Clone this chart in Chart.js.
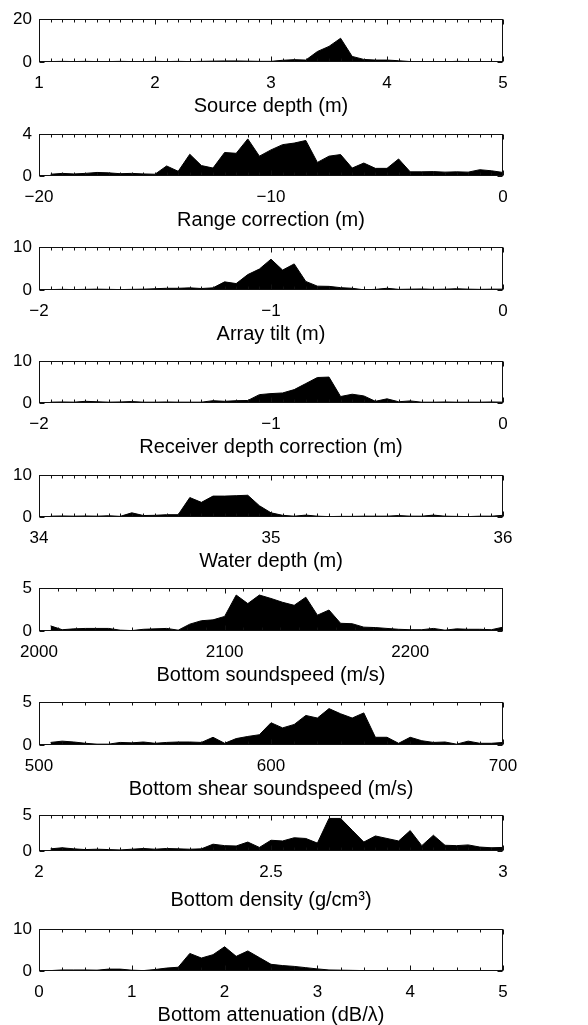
<!DOCTYPE html>
<html><head><meta charset="utf-8">
<script src="https://cdn.jsdelivr.net/npm/chart.js@4/dist/chart.umd.min.js"></script>
<style>
html,body{margin:0;padding:0;background:#fff;}
#wrap{position:relative;width:588px;height:1025px;overflow:hidden;}
canvas{position:absolute;left:0;}
</style></head><body><div id="wrap"></div>
<script>
// ---- data ----
const titles = ['Source depth (m)','Range correction (m)','Array tilt (m)','Receiver depth correction (m)','Water depth (m)','Bottom soundspeed (m/s)','Bottom shear soundspeed (m/s)','Bottom density (g/cm\u00B3)','Bottom attenuation (dB/\u03BB)'];
const xMin = [1,-20,-2,-2,34,2000,500,2,0];
const xMax = [5,0,0,0,36,2250,700,3,5];
const yMax = [20,4,10,10,10,5,5,5,10];
const xTickVals = [[1,2,3,4,5],[-20,-10,0],[-2,-1,0],[-2,-1,0],[34,35,36],[2000,2100,2200],[500,600,700],[2,2.5,3],[0,1,2,3,4,5]];
const yTickVals = [[0,10,20],[0,2,4],[0,5,10],[0,5,10],[0,5,10],[0,5],[0,5],[0,5],[0,5,10]];

const srcDepthX = [1.1,1.2,1.3,1.4,1.5,1.6,1.7,1.8,1.9,2.0,2.1,2.2,2.3,2.4,2.5,2.6,2.7,2.8,2.9,3.0,3.1,3.2,3.3,3.4,3.5,3.6,3.7,3.8,3.9,4.0,4.1,4.2,4.3,4.4,4.5,4.6,4.7,4.8,4.9,5.0];
const srcDepthY = [0.2,0.3,0.2,0.3,0.2,0.2,0.3,0.2,0.2,0.3,0.2,0.3,0.2,0.3,0.4,0.5,0.5,0.4,0.3,0.3,0.8,1.1,0.9,4.9,7.3,11.1,2.6,1.2,0.9,0.9,0.6,0.2,0.1,0.2,0.1,0.3,0.2,0.1,0.2,0.2];

const rangeX = [-19.5,-19,-18.5,-18,-17.5,-17,-16.5,-16,-15.5,-15,-14.5,-14,-13.5,-13,-12.5,-12,-11.5,-11,-10.5,-10,-9.5,-9,-8.5,-8,-7.5,-7,-6.5,-6,-5.5,-5,-4.5,-4,-3.5,-3,-2.5,-2,-1.5,-1,-0.5,0];
const rangeY = [0.17,0.25,0.2,0.25,0.34,0.3,0.22,0.25,0.2,0.17,0.96,0.45,2.08,1.0,0.76,2.25,2.17,3.55,1.9,2.5,3.0,3.15,3.4,1.3,1.9,2.05,0.76,1.24,0.73,0.73,1.63,0.4,0.4,0.42,0.37,0.4,0.37,0.6,0.5,0.34];

const tiltX = [-1.95,-1.9,-1.85,-1.8,-1.75,-1.7,-1.65,-1.6,-1.55,-1.5,-1.45,-1.4,-1.35,-1.3,-1.25,-1.2,-1.15,-1.1,-1.05,-1.0,-0.95,-0.9,-0.85,-0.8,-0.75,-0.7,-0.65,-0.6,-0.55,-0.5,-0.45,-0.4,-0.35,-0.3,-0.25,-0.2,-0.15,-0.1,-0.05,0];
const tiltY = [0.1,0.15,0.1,0.15,0.2,0.15,0.1,0.15,0.2,0.3,0.4,0.4,0.5,0.35,0.5,1.9,1.5,3.6,4.9,7.2,4.65,6.1,2.0,0.9,0.85,0.55,0.4,0.05,0.15,0.4,0.15,0.2,0.25,0.15,0.2,0.3,0.2,0.15,0.2,0.2];

const recvX = [-1.95,-1.9,-1.85,-1.8,-1.75,-1.7,-1.65,-1.6,-1.55,-1.5,-1.45,-1.4,-1.35,-1.3,-1.25,-1.2,-1.15,-1.1,-1.05,-1.0,-0.95,-0.9,-0.85,-0.8,-0.75,-0.7,-0.65,-0.6,-0.55,-0.5,-0.45,-0.4,-0.35,-0.3,-0.25,-0.2,-0.15,-0.1,-0.05,0];
const recvY = [0.2,0.25,0.2,0.4,0.3,0.2,0.25,0.35,0.2,0.2,0.25,0.2,0.2,0.2,0.55,0.4,0.55,0.6,2.0,2.25,2.4,3.2,4.65,6.1,6.2,1.55,2.1,1.7,0.4,1.0,0.3,0.5,0.2,0.2,0.25,0.2,0.2,0.2,0.25,0.2];

const waterX = [34.05,34.1,34.15,34.2,34.25,34.3,34.35,34.4,34.45,34.5,34.55,34.6,34.65,34.7,34.75,34.8,34.85,34.9,34.95,35.0,35.05,35.1,35.15,35.2,35.25,35.3,35.35,35.4,35.45,35.5,35.55,35.6,35.65,35.7,35.75,35.8,35.85,35.9,35.95,36.0];
const waterY = [0.2,0.25,0.2,0.25,0.2,0.3,0.15,1.0,0.35,0.4,0.55,0.55,4.65,3.5,5.0,5.0,5.1,5.2,2.7,1.0,0.4,0.2,0.45,0.2,0.1,0.15,0.15,0.2,0.2,0.2,0.35,0.2,0.2,0.45,0.2,0.15,0.1,0.2,0.2,0.4];

const soundX = [2006.25,2012.5,2018.75,2025,2031.25,2037.5,2043.75,2050,2056.25,2062.5,2068.75,2075,2081.25,2087.5,2093.75,2100,2106.25,2112.5,2118.75,2125,2131.25,2137.5,2143.75,2150,2156.25,2162.5,2168.75,2175,2181.25,2187.5,2193.75,2200,2206.25,2212.5,2218.75,2225,2231.25,2237.5,2243.75,2250];
const soundY = [0.6,0.15,0.25,0.3,0.3,0.3,0.1,0.05,0.2,0.25,0.3,0.1,0.8,1.2,1.3,1.7,4.2,3.2,4.2,3.8,3.35,3.0,3.95,1.85,2.45,0.9,0.85,0.45,0.4,0.3,0.2,0.15,0.15,0.3,0.1,0.25,0.2,0.2,0.15,0.45];

const shearX = [505,510,515,520,525,530,535,540,545,550,555,560,565,570,575,580,585,590,595,600,605,610,615,620,625,630,635,640,645,650,655,660,665,670,675,680,685,690,695,700];
const shearY = [0.3,0.45,0.35,0.2,0.1,0.1,0.3,0.25,0.35,0.2,0.3,0.35,0.35,0.3,0.9,0.2,0.75,1.0,1.2,2.6,2.0,2.4,3.45,3.15,4.25,3.65,3.15,3.75,0.9,0.9,0.2,0.9,0.5,0.3,0.35,0.1,0.45,0.2,0.2,0.3];

const densX = [2.025,2.05,2.075,2.1,2.125,2.15,2.175,2.2,2.225,2.25,2.275,2.3,2.325,2.35,2.375,2.4,2.425,2.45,2.475,2.5,2.525,2.55,2.575,2.6,2.625,2.65,2.675,2.7,2.725,2.75,2.775,2.8,2.825,2.85,2.875,2.9,2.925,2.95,2.975,3.0];
const densY = [0.3,0.45,0.3,0.2,0.25,0.2,0.15,0.25,0.35,0.25,0.35,0.3,0.25,0.3,0.95,0.75,0.7,1.25,0.5,1.5,1.4,1.85,1.75,1.1,4.55,4.55,2.9,1.25,2.1,1.75,1.4,2.85,0.75,2.2,0.8,0.75,0.85,0.55,0.45,0.5];

const attenX = [0.125,0.25,0.375,0.5,0.625,0.75,0.875,1,1.125,1.25,1.375,1.5,1.625,1.75,1.875,2,2.125,2.25,2.375,2.5,2.625,2.75,2.875,3,3.125,3.25,3.375,3.5,3.625,3.75,3.875,4,4.125,4.25,4.375,4.5,4.625,4.75,4.875,5];
const attenY = [0.1,0.25,0.25,0.25,0.2,0.45,0.45,0.2,0.1,0.35,0.7,0.9,4.2,3.1,3.9,5.8,3.5,4.8,3.2,1.6,1.3,1.1,0.8,0.5,0.25,0.2,0.15,0.1,0.1,0.05,0.05,0.1,0.05,0.05,0.1,0.05,0.1,0.1,0.05,0.15];

const seriesX = [srcDepthX,rangeX,tiltX,recvX,waterX,soundX,shearX,densX,attenX];
const seriesY = [srcDepthY,rangeY,tiltY,recvY,waterY,soundY,shearY,densY,attenY];

// ---- layout / style ----
const panelTop = [14,129,242,356,470,583,697,810,924];
const panelBottom = [62,176,290,403,517,631,745,851,971];
const minorStep = [0.1,0.5,0.05,0.05,0.05,10,10,0.025,0.25];
const titleSpace = [56,56,56,56,56,56,56,61,56];
const PADT = 12;
const FONT = '"Liberation Sans", Arial, Helvetica, sans-serif';

const boxTicks = {
  id: 'boxTicks',
  afterDatasetsDraw(chart, args, opts) {
    const {ctx, chartArea: a} = chart;
    const x = chart.scales.x, y = chart.scales.y;
    const L = Math.round(a.left) + 0.5, R = Math.round(a.right) - 0.5;
    const T = Math.round(a.top) + 0.5, B = Math.round(a.bottom) - 0.5;
    ctx.save();
    ctx.strokeStyle = '#111';
    ctx.lineWidth = 1;
    ctx.beginPath();
    const n = Math.round((x.max - x.min) / opts.step);
    for (let i = 1; i < n; i++) {
      const px = Math.round(x.getPixelForValue(x.min + i * opts.step)) + 0.5;
      ctx.moveTo(px, T); ctx.lineTo(px, T + 3);
      ctx.moveTo(px, B); ctx.lineTo(px, B - 3);
    }
    x.ticks.forEach(t => {
      const px = Math.round(x.getPixelForValue(t.value)) + 0.5;
      ctx.moveTo(px, T); ctx.lineTo(px, T + 5);
      ctx.moveTo(px, B); ctx.lineTo(px, B - 5);
    });
    y.ticks.forEach(t => {
      const py = Math.round(y.getPixelForValue(t.value)) + 0.5;
      ctx.moveTo(L, py); ctx.lineTo(L + 5, py);
      ctx.moveTo(R, py); ctx.lineTo(R - 5, py);
    });
    ctx.stroke();
    ctx.strokeRect(L, T, R - L, B - T);
    ctx.restore();
  }
};

function fmt(v) {
  return v < 0 ? '\u2212' + String(Math.abs(v)) : String(v);
}

const wrap = document.getElementById('wrap');
for (let i = 0; i < 9; i++) {
  const h = PADT + (panelBottom[i] - panelTop[i]) + titleSpace[i];
  const cv = document.createElement('canvas');
  cv.width = 588; cv.height = h;
  cv.style.width = '588px'; cv.style.height = h + 'px';
  cv.style.top = (panelTop[i] - PADT) + 'px';
  wrap.appendChild(cv);
  const pts = seriesX[i].map((v, k) => ({x: v, y: seriesY[i][k]}));
  const xt = xTickVals[i], yt = yTickVals[i];
  new Chart(cv, {
    type: 'line',
    data: {datasets: [{data: pts, borderColor: '#000', backgroundColor: '#000', borderWidth: 1, pointRadius: 0, fill: 'origin', tension: 0}]},
    options: {
      responsive: false, animation: false, devicePixelRatio: 1,
      layout: {padding: {top: PADT, left: 0, right: 85, bottom: 0}},
      plugins: {legend: {display: false}, tooltip: {enabled: false}, boxTicks: {step: minorStep[i]}},
      scales: {
        x: {
          type: 'linear', min: xMin[i], max: xMax[i],
          afterBuildTicks: s => { s.ticks = xt.map(v => ({value: v})); },
          afterFit: s => { s.height = titleSpace[i]; },
          grid: {display: false, drawTicks: false}, border: {display: false},
          ticks: {padding: 11, color: '#000', font: {family: FONT, size: 17}, maxRotation: 0, autoSkip: false, callback: v => fmt(v)},
          title: {display: true, text: titles[i], color: '#000', font: {family: FONT, size: 20}, padding: 0}
        },
        y: {
          type: 'linear', min: 0, max: yMax[i],
          afterBuildTicks: s => { s.ticks = yt.map(v => ({value: v})); },
          afterFit: s => { s.width = 39; },
          grid: {display: false, drawTicks: false}, border: {display: false},
          ticks: {padding: 7, color: '#000', font: {family: FONT, size: 17}, callback: v => fmt(v)}
        }
      }
    },
    plugins: [boxTicks]
  });
}
</script>
</body></html>
